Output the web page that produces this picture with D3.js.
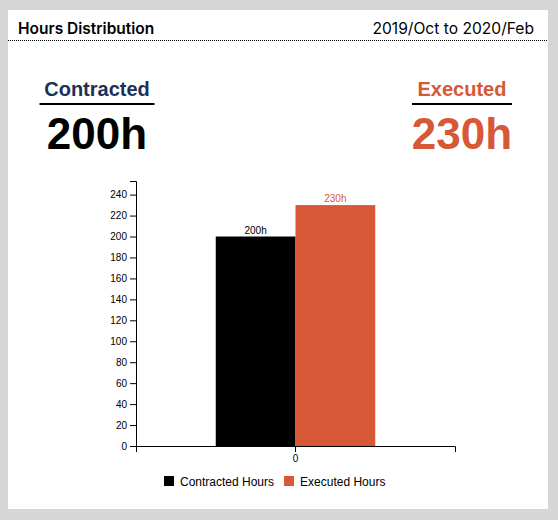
<!DOCTYPE html>
<html>
<head>
<meta charset="utf-8">
<script src="https://cdn.jsdelivr.net/npm/d3@7"></script>
<style>
  body { margin: 0; background: #d6d6d6; font-family: "Liberation Sans", Arial, Helvetica, sans-serif; }
  svg { display: block; }
  .head { font-family: Inter, "Liberation Sans", Arial, sans-serif; }
</style>
</head>
<body>
<svg id="chart" width="558" height="520"></svg>
<script>
// chart data
const groups = ['0'];
const seriesKeys = ['Contracted Hours', 'Executed Hours'];
const contractedHours = [200];
const executedHours = [230];
const seriesColors = ['#000000', '#d75836'];
const summaryLabels = ['Contracted', 'Executed'];
const summaryColors = ['#1d3057', '#d75836'];
const summaryValueColors = ['#000000', '#d75836'];
const title = 'Hours Distribution';
const period = '2019/Oct to 2020/Feb';

const svg = d3.select('#chart');

// card
svg.append('rect')
  .attr('x', 8).attr('y', 10)
  .attr('width', 540).attr('height', 499)
  .attr('fill', '#fff');

svg.append('text')
  .attr('class', 'head')
  .attr('x', 18).attr('y', 34)
  .attr('font-size', 15.5).attr('font-weight', 600)
  .text(title);

svg.append('text')
  .attr('class', 'head')
  .attr('x', 534).attr('y', 34)
  .attr('text-anchor', 'end')
  .attr('font-size', 15.6)
  .text(period);

svg.append('line')
  .attr('x1', 8).attr('x2', 548)
  .attr('y1', 40.5).attr('y2', 40.5)
  .attr('stroke', '#000')
  .attr('stroke-dasharray', '1,1');

// summary headers
const totals = [d3.sum(contractedHours), d3.sum(executedHours)];
const summaryX = [97, 462];
const underlineW = [115, 100];

summaryLabels.forEach((lbl, i) => {
  const g = svg.append('g').attr('transform', `translate(${summaryX[i]},0)`);
  g.append('text')
    .attr('y', 96)
    .attr('text-anchor', 'middle')
    .attr('font-size', 20).attr('font-weight', 'bold')
    .attr('fill', summaryColors[i])
    .text(lbl);
  g.append('line')
    .attr('x1', -underlineW[i] / 2).attr('x2', underlineW[i] / 2)
    .attr('y1', 104).attr('y2', 104)
    .attr('stroke', '#000').attr('stroke-width', 2);
  g.append('text')
    .attr('y', 149)
    .attr('text-anchor', 'middle')
    .attr('font-size', 44).attr('font-weight', 'bold')
    .attr('fill', summaryValueColors[i])
    .text(totals[i] + 'h');
});

// bar chart
const margin = { top: 181, left: 136, right: 103, bottom: 74 };
const width = 558 - margin.left - margin.right;
const height = 520 - margin.top - margin.bottom;

const chart = svg.append('g').attr('transform', `translate(${margin.left},${margin.top})`);

const rows = groups.map((g, i) => ({
  group: g,
  values: [contractedHours[i], executedHours[i]]
}));

const x0 = d3.scaleBand()
  .domain(groups)
  .range([0, width])
  .paddingInner(0)
  .paddingOuter(0.5);

const x1 = d3.scaleBand()
  .domain(seriesKeys)
  .range([0, x0.bandwidth()]);

const maxVal = d3.max(rows, d => d3.max(d.values));
const y = d3.scaleLinear()
  .domain([0, maxVal * 1.1])
  .range([height, 0]);

const groupSel = chart.selectAll('g.group')
  .data(rows)
  .enter()
  .append('g')
  .attr('class', 'group')
  .attr('transform', d => `translate(${x0(d.group)},0)`);

groupSel.selectAll('rect')
  .data(d => d.values.map((v, i) => ({ key: seriesKeys[i], value: v, i })))
  .enter()
  .append('rect')
  .attr('x', d => x1(d.key))
  .attr('y', d => y(d.value))
  .attr('width', x1.bandwidth())
  .attr('height', d => height - y(d.value))
  .attr('fill', d => seriesColors[d.i]);

groupSel.selectAll('text.val')
  .data(d => d.values.map((v, i) => ({ key: seriesKeys[i], value: v, i })))
  .enter()
  .append('text')
  .attr('class', 'val')
  .attr('x', d => x1(d.key) + x1.bandwidth() / 2)
  .attr('y', d => y(d.value) - 3)
  .attr('text-anchor', 'middle')
  .attr('font-size', 10)
  .attr('fill', d => d.i === 1 ? seriesColors[1] : '#000')
  .text(d => d.value + 'h');

chart.append('g')
  .call(d3.axisLeft(y));

chart.append('g')
  .attr('transform', `translate(0,${height})`)
  .call(d3.axisBottom(x0));

// legend
const legend = svg.append('g').attr('transform', 'translate(164,476)');
let lx = 0;
seriesKeys.forEach((k, i) => {
  const item = legend.append('g').attr('transform', `translate(${lx},0)`);
  item.append('rect')
    .attr('width', 10).attr('height', 10)
    .attr('fill', seriesColors[i]);
  const t = item.append('text')
    .attr('x', 16).attr('y', 9.5)
    .attr('font-size', 12)
    .text(k);
  lx += 16 + t.node().getComputedTextLength() + 10;
});
</script>
</body>
</html>
